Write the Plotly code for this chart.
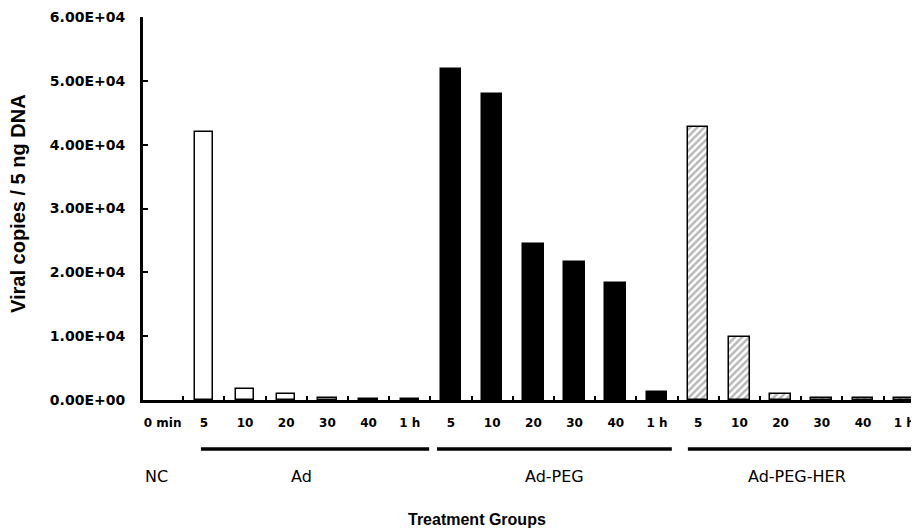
import plotly.graph_objects as go

tick_labels = ["0 min", "5", "10", "20", "30", "40", "1 h",
               "5", "10", "20", "30", "40", "1 h",
               "5", "10", "20", "30", "40", "1 h"]
nc_values = [0]
ad_values = [42000, 1800, 900, 300, 100, 100]
adpeg_values = [51900, 48000, 24400, 21600, 18300, 1200]
adpegher_values = [42800, 9800, 900, 300, 250, 300]
group_names = ["NC", "Ad", "Ad-PEG", "Ad-PEG-HER"]
y_ticks = [0, 10000, 20000, 30000, 40000, 50000, 60000]
y_tick_text = ["0.00E+00", "1.00E+04", "2.00E+04", "3.00E+04", "4.00E+04", "5.00E+04", "6.00E+04"]

ARIAL = "Liberation Sans, Arial, sans-serif"
WIDE = "DejaVu Sans, sans-serif"
fig = go.Figure()

fig.add_trace(go.Bar(x=[0], y=nc_values, width=0.5,
                     marker=dict(color="white", line=dict(color="black", width=0))))
fig.add_trace(go.Bar(x=list(range(1, 7)), y=ad_values, width=0.45,
                     marker=dict(color="white", line=dict(color="black", width=1.5))))
fig.add_trace(go.Bar(x=list(range(7, 13)), y=adpeg_values, width=0.5,
                     marker=dict(color="black", line=dict(color="black", width=1.5))))
fig.add_trace(go.Bar(x=list(range(13, 19)), y=adpegher_values, width=0.5,
                     marker=dict(color="white",
                                 pattern=dict(shape="/", fgcolor="#707070", bgcolor="white",
                                              size=5, solidity=0.5),
                                 line=dict(color="black", width=1.5))))

# group underline segments
segments = [(0.93, 6.47), (6.66, 12.36), (12.75, 18.4)]
for x0, x1 in segments:
    fig.add_shape(type="line", xref="x", yref="paper", x0=x0, x1=x1,
                  y0=-0.128, y1=-0.128, line=dict(color="black", width=3.5))

annos = []
group_x = [-0.15, 3.38, 9.52, 15.4]
for name, gx in zip(group_names, group_x):
    annos.append(dict(x=gx, y=-0.201, xref="x", yref="paper", text=name,
                      showarrow=False, yanchor="middle",
                      font=dict(family=WIDE, size=16, color="black")))
annos.append(dict(x=(477 - 143) / 776, y=-0.311, xref="paper", yref="paper",
                  text="Treatment Groups", showarrow=False, yanchor="middle",
                  font=dict(family=ARIAL, size=16, color="black", weight="bold")))
annos.append(dict(x=(18 - 143) / 776, y=(400 - 203) / 383, xref="paper", yref="paper",
                  text="Viral copies / 5 ng DNA", textangle=-90, showarrow=False,
                  xanchor="center", yanchor="middle",
                  font=dict(family=ARIAL, size=20, color="black", weight="bold")))

# page has an 8px body margin, so the figure is 8px smaller and shifted
fig.update_layout(
    width=911, height=524,
    margin=dict(l=135, r=0, t=9, b=132, autoexpand=False),
    paper_bgcolor="white", plot_bgcolor="white",
    showlegend=False, bargap=0,
    font=dict(family=ARIAL, color="black"),
    annotations=annos,
)

fig.update_xaxes(
    range=[-0.476, 18.36], tickmode="array", tickvals=list(range(19)), ticktext=tick_labels,
    ticks="", showline=True, linecolor="black", linewidth=3, showgrid=False, zeroline=False,
    automargin=False, ticklabelstandoff=10,
    tickfont=dict(family=WIDE, size=12, color="black", weight="bold"),
    minor=dict(ticks="inside", tick0=0.5, dtick=1, ticklen=4, tickcolor="black", tickwidth=2),
)
fig.update_yaxes(
    range=[0, 60000], tickmode="array", tickvals=y_ticks, ticktext=y_tick_text,
    ticks="inside", ticklen=5, tickwidth=2, tickcolor="black",
    showline=True, linecolor="black", linewidth=3, showgrid=False, zeroline=False,
    automargin=False, ticklabelstandoff=12,
    tickfont=dict(family=WIDE, size=14, color="black", weight="bold"),
)

fig.write_html("out.html")
